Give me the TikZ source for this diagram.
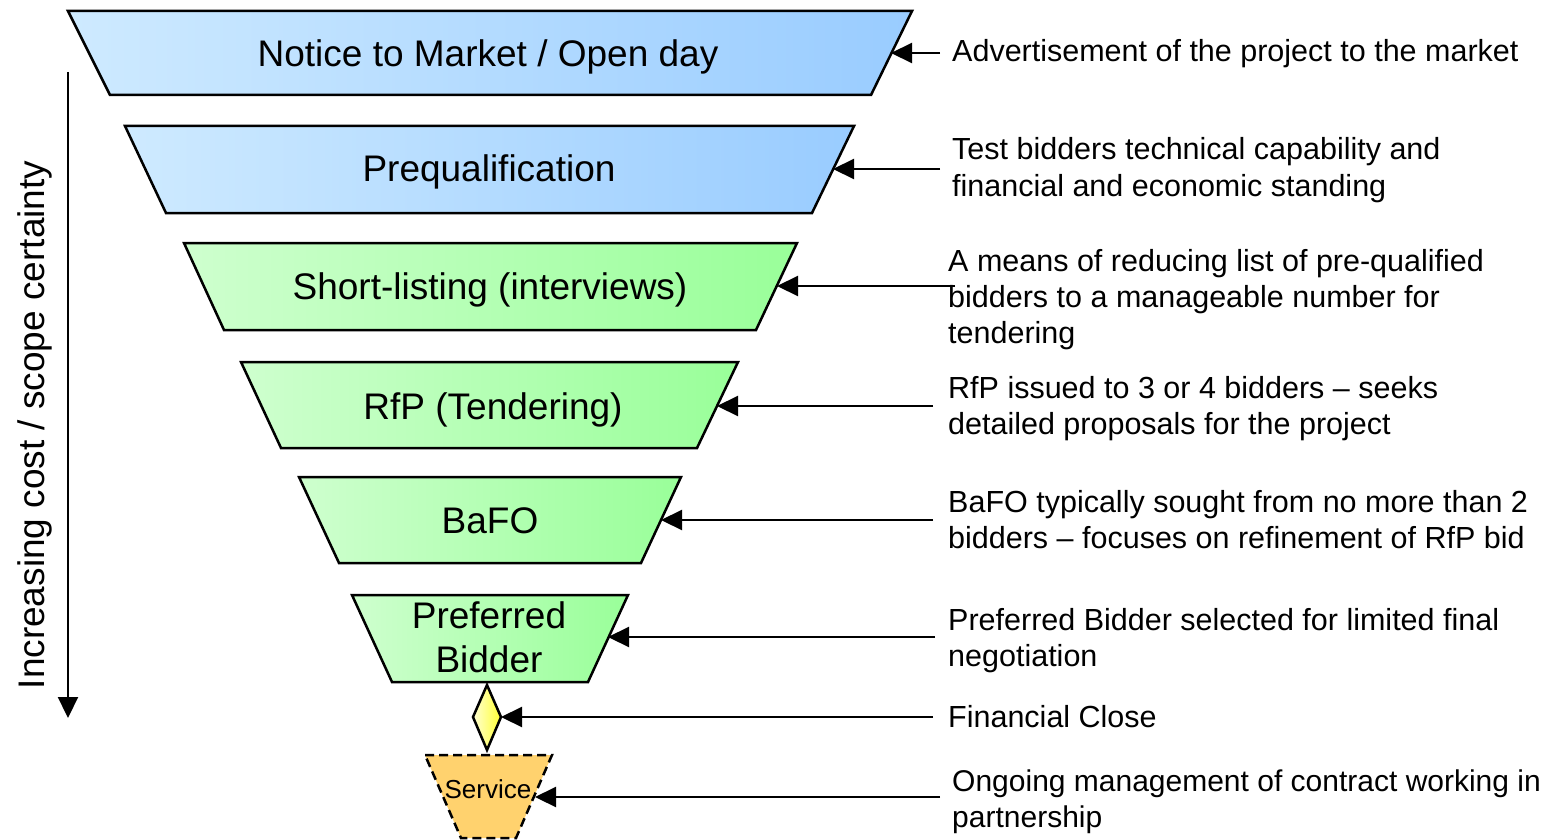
\documentclass[tikz,border=0pt]{standalone}
\usepackage{fontspec}
\setmainfont{Liberation Sans}
\usetikzlibrary{arrows.meta}
\definecolor{blueL}{RGB}{206,234,255}
\definecolor{blueR}{RGB}{153,204,255}
\definecolor{greenL}{RGB}{206,255,206}
\definecolor{greenR}{RGB}{153,255,153}
\definecolor{yelL}{RGB}{255,255,210}
\definecolor{yelR}{RGB}{255,255,51}
\definecolor{orEdge}{RGB}{255,210,110}
\definecolor{orMid}{RGB}{255,200,0}
\begin{document}
\begin{tikzpicture}[x=1pt,y=-1pt,
  stage/.style={draw=black, line width=2.5pt, line join=miter},
  bluestage/.style={stage, left color=blueL, right color=blueR},
  greenstage/.style={stage, left color=greenL, right color=greenR},
  stagetext/.style={anchor=base, inner sep=0pt, align=center,
    font=\fontsize{37}{44}\selectfont},
  lbl/.style={anchor=base west, inner sep=0pt,
    font=\fontsize{30.5}{36}\selectfont},
  ptr/.style={draw=black, line width=2.2pt, -{Triangle[length=21pt,width=20pt]}},
]
\useasboundingbox (0,0) rectangle (1547,840);

% funnel stages
\path[bluestage] (68,11) -- (912,11) -- (871,95) -- (110,95) -- cycle;
\node[stagetext] (s1) at (488,67) {Notice to Market / Open day};
\coordinate (t1) at (891,53);

\path[bluestage] (125,126) -- (854,126) -- (812,213) -- (166,213) -- cycle;
\node[stagetext] (s2) at (489,181) {Prequalification};
\coordinate (t2) at (833,169);

\path[greenstage] (184,243) -- (797,243) -- (756,330) -- (224,330) -- cycle;
\node[stagetext] (s3) at (490,299) {Short-listing (interviews)};
\coordinate (t3) at (777,286);

\path[greenstage] (241,362) -- (738,362) -- (697,448) -- (281,448) -- cycle;
\node[stagetext] (s4) at (493,419) {RfP (Tendering)};
\coordinate (t4) at (717,406);

\path[greenstage] (299,477) -- (681,477) -- (641,563) -- (339,563) -- cycle;
\node[stagetext] (s5) at (490,533) {BaFO};
\coordinate (t5) at (661,520);

\path[greenstage] (352,595) -- (628,595) -- (588,682) -- (392,682) -- cycle;
% base anchor of a two-line node sits on its last line
\node[stagetext] (s6) at (489,672) {Preferred\\Bidder};
\coordinate (t6) at (608,637);

% financial close milestone
\path[stage, left color=yelL, right color=yelR]
  (487,685) -- (501,717) -- (487,750) -- (473,717) -- cycle;
\coordinate (t7) at (501,717);

% service period
\path[stage, dash pattern=on 9pt off 5pt, left color=orEdge, middle color=orMid, right color=orEdge]
  (425,755) -- (552,755) -- (516,838) -- (461,838) -- cycle;
\node[anchor=base, inner sep=0pt, font=\fontsize{26}{30}\selectfont] (s8) at (488,798) {Service};
\coordinate (t8) at (535,797);

% descriptions
\node[lbl] (d1) at (952,62) {Advertisement of the project to the market};
\node[lbl] (d2) at (952,160) {\parbox[t]{620pt}{Test bidders technical capability and\\financial and economic standing}};
\node[lbl] (d3) at (948,271) {\parbox[t]{620pt}{A means of reducing list of pre-qualified\\bidders to a manageable number for\\tendering}};
\node[lbl] (d4) at (948,398) {\parbox[t]{620pt}{RfP issued to 3 or 4 bidders -- seeks\\detailed proposals for the project}};
\node[lbl] (d5) at (948,512) {\parbox[t]{620pt}{BaFO typically sought from no more than 2\\bidders -- focuses on refinement of RfP bid}};
\node[lbl] (d6) at (948,630) {\parbox[t]{620pt}{Preferred Bidder selected for limited final\\negotiation}};
\node[lbl] (d7) at (948,727) {Financial Close};
\node[lbl, font=\fontsize{30}{36}\selectfont] (d8) at (952,791) {\parbox[t]{620pt}{Ongoing management of contract working in\\partnership}};

% pointer start points
\coordinate (p1) at (940,53);
\coordinate (p2) at (940,169);
\coordinate (p3) at (955,286);
\coordinate (p4) at (933,406);
\coordinate (p5) at (933,520);
\coordinate (p6) at (935,637);
\coordinate (p7) at (933,717);
\coordinate (p8) at (940,797);

\draw[ptr] (p1) -- (t1);
\draw[ptr] (p2) -- (t2);
\draw[ptr] (p3) -- (t3);
\draw[ptr] (p4) -- (t4);
\draw[ptr] (p5) -- (t5);
\draw[ptr] (p6) -- (t6);
\draw[ptr] (p7) -- (t7);
\draw[ptr] (p8) -- (t8);

% cost / certainty axis
\coordinate (vtop) at (68,72);
\coordinate (vbot) at (68,718);
\draw[ptr] (vtop) -- (vbot);
\node[anchor=base, rotate=90, inner sep=0pt, font=\fontsize{37}{44}\selectfont] (axis) at (44,425)
  {Increasing cost / scope certainty};
\end{tikzpicture}
\end{document}
